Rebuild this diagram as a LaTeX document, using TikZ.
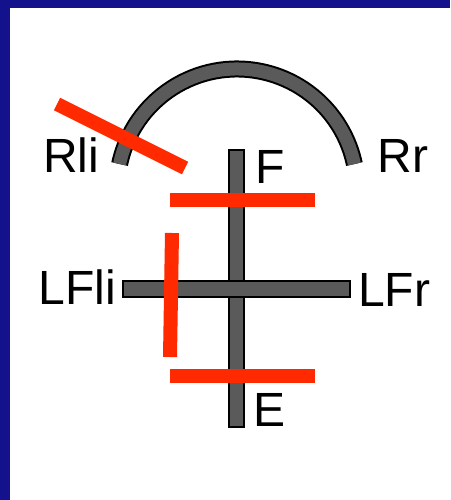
\documentclass[tikz,border=0pt]{standalone}
\usepackage{fontspec}
\setmainfont{Liberation Sans}
\usepackage{xcolor}
\usepackage{tikz}
\usetikzlibrary{calc}
\definecolor{frame}{HTML}{13128C}
\definecolor{cut}{HTML}{FF2A00}
\definecolor{bar}{HTML}{5A5A5A}

\begin{document}
\begin{tikzpicture}[x=1pt, y=-1pt,
    lbl/.style={font=\fontsize{48}{48}\selectfont, inner sep=0pt, text=black},
    rod/.style={draw=black, fill=bar, line width=1.6pt},
    arcline/.style={line width=2pt, double=bar, double distance=13pt},
    cutline/.style={cut, line width=14pt},
  ]
    % frame and white sheet
    \fill[frame] (0,0) rectangle (450,500);
    \fill[white] (10,8) rectangle (450,500);
    \useasboundingbox (0,0) rectangle (450,500);

    % arch between the two R points
    \draw[arcline] ($(237,189)+(192:120)$) arc[start angle=192, end angle=348, radius=120];

    % cross
    \draw[rod] (229,150) rectangle (244,427);
    \draw[rod] (123,281) rectangle (350,297);

    % labels
    \node[lbl] (rli)  at (71,155)  {Rli};
    \node[lbl] (rr)   at (403,156) {Rr};
    \node[lbl] (f)    at (270,167) {F};
    \node[lbl] (lfli) at (77,287)  {LFli};
    \node[lbl] (lfr)  at (394,290) {LFr};
    \node[lbl] (e)    at (270,410) {E};

    % red cuts
    \draw[cutline] (57,104) -- (185,168);
    \draw[cutline] (170,200) -- (315,200);
    \draw[cutline] (172,233) -- (170,357);
    \draw[cutline] (170,376) -- (315,376);
\end{tikzpicture}
\end{document}
